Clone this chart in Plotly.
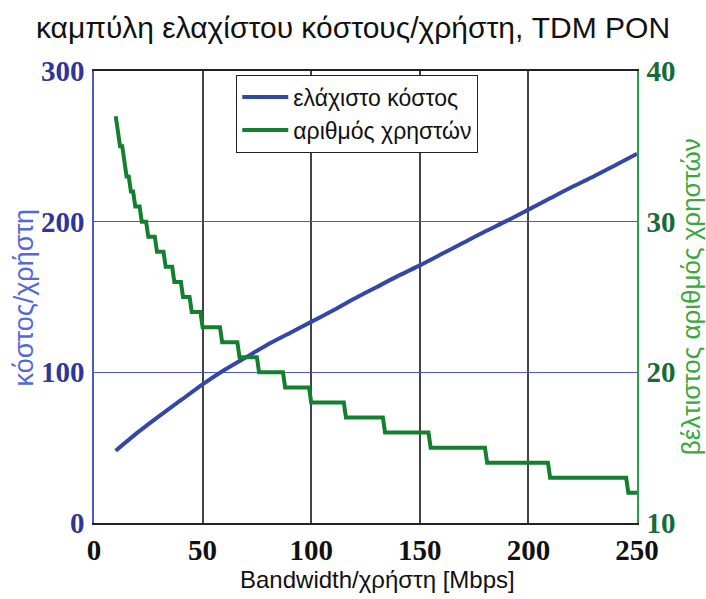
import plotly.graph_objects as go

# Minimum cost per user versus bandwidth per user (Mbps)
bandwidth = [10, 20, 30, 40, 50, 60, 70, 80, 90, 100, 110, 120, 130,
             140, 150, 160, 170, 180, 190, 200, 210, 220, 230, 240, 250]
min_cost = [48, 60, 71, 81.5, 92, 101.5, 110, 118.5, 126, 133.5, 141, 149, 156.5,
            164, 171, 178.5, 186, 193.5, 200.5, 208, 215.5, 223, 230, 237.5, 245]

# Optimal number of users: bandwidth at which each user count begins
level_start = [10, 11, 12, 14, 15, 17, 19, 22, 25, 29, 33, 37, 41, 45, 50,
               59, 67, 76, 88, 100, 116, 134, 155, 181, 210, 246]
level_users = [37, 36, 35, 34, 33, 32, 31, 30, 29, 28, 27, 26, 25, 24, 23,
               22, 21, 20, 19, 18, 17, 16, 15, 14, 13, 12]
bw_max = 250

x_ticks = [0, 50, 100, 150, 200, 250]
cost_ticks = [0, 100, 200, 300]
user_ticks = [10, 20, 30, 40]

# Expand the user levels into a sampled staircase (1 Mbps resolution)
users_x, users_y = [], []
for i, (start, n) in enumerate(zip(level_start, level_users)):
    end = level_start[i + 1] - 1 if i + 1 < len(level_start) else bw_max
    users_x.append(start)
    users_y.append(n)
    if end > start:
        users_x.append(end)
        users_y.append(n)

BLUE = "#3347a8"
GREEN = "#12802f"
SANS = "Liberation Sans, Arial, sans-serif"
SERIF = "Liberation Serif, Times New Roman, serif"

fig = go.Figure()
fig.add_trace(go.Scatter(
    x=bandwidth, y=min_cost, mode="lines", name="ελάχιστο κόστος",
    line=dict(color=BLUE, width=4, shape="spline", smoothing=0.6),
    yaxis="y",
))
fig.add_trace(go.Scatter(
    x=users_x, y=users_y, mode="lines", name="αριθμός χρηστών",
    line=dict(color=GREEN, width=4),
    yaxis="y2",
))

fig.update_layout(
    width=706, height=599,
    margin=dict(l=94, r=69, t=71, b=76),
    paper_bgcolor="white", plot_bgcolor="white",
    title=dict(text="καμπύλη ελαχίστου κόστους/χρήστη, TDM PON",
               x=0.5, xanchor="center", y=1 - 27 / 599, yanchor="middle",
               font=dict(family=SANS, size=30, color="#111")),
    xaxis=dict(
        range=[0, 250], tickvals=x_ticks, ticktext=[str(v) for v in x_ticks],
        showgrid=True, gridcolor="#444", gridwidth=1.5,
        showline=True, linecolor="#222", linewidth=1.5, mirror=True,
        zeroline=False, ticks="",
        tickfont=dict(family=SERIF, size=29, color="#111", weight="bold"),
    ),
    yaxis=dict(
        range=[0, 300], tickvals=cost_ticks, ticktext=[str(v) for v in cost_ticks],
        showgrid=True, gridcolor="#4a5bc8", gridwidth=1.2,
        showline=True, linecolor="#4a5bc8", linewidth=1.5,
        zeroline=False, ticks="", ticklabelstandoff=2,
        tickfont=dict(family=SERIF, size=29, color="#30359a", weight="bold"),
    ),
    yaxis2=dict(
        range=[10, 40], tickvals=user_ticks, ticktext=[str(v) for v in user_ticks],
        overlaying="y", side="right", showgrid=False,
        showline=True, linecolor="#2e9a4c", linewidth=1.5,
        zeroline=False, ticks="", ticklabelstandoff=2,
        tickfont=dict(family=SERIF, size=29, color="#156b3a", weight="bold"),
    ),
    legend=dict(
        x=0.262, xanchor="left", y=0.992, yanchor="top",
        bgcolor="white", bordercolor="#222", borderwidth=1,
        font=dict(family=SANS, size=23, color="#111"),
        itemwidth=46, tracegroupgap=0,
    ),
    showlegend=True,
)

# Axis titles
fig.add_annotation(text="Bandwidth/χρήστη [Mbps]", xref="paper", yref="paper",
                   x=0.522, y=-0.125, xanchor="center", yanchor="middle",
                   showarrow=False, font=dict(family=SANS, size=24, color="#111"))
fig.add_annotation(text="κόστος/χρήστη", xref="paper", yref="paper",
                   x=-0.128, y=0.5, xanchor="center", yanchor="middle",
                   textangle=-90, showarrow=False,
                   font=dict(family=SANS, size=27, color="#5468dc"))
fig.add_annotation(text="βέλτιστος αριθμός χρηστών", xref="paper", yref="paper",
                   x=1.1, y=0.5, xanchor="center", yanchor="middle",
                   textangle=-90, showarrow=False,
                   font=dict(family=SANS, size=26, color="#3aa83a"))

fig.write_html("out.html")
